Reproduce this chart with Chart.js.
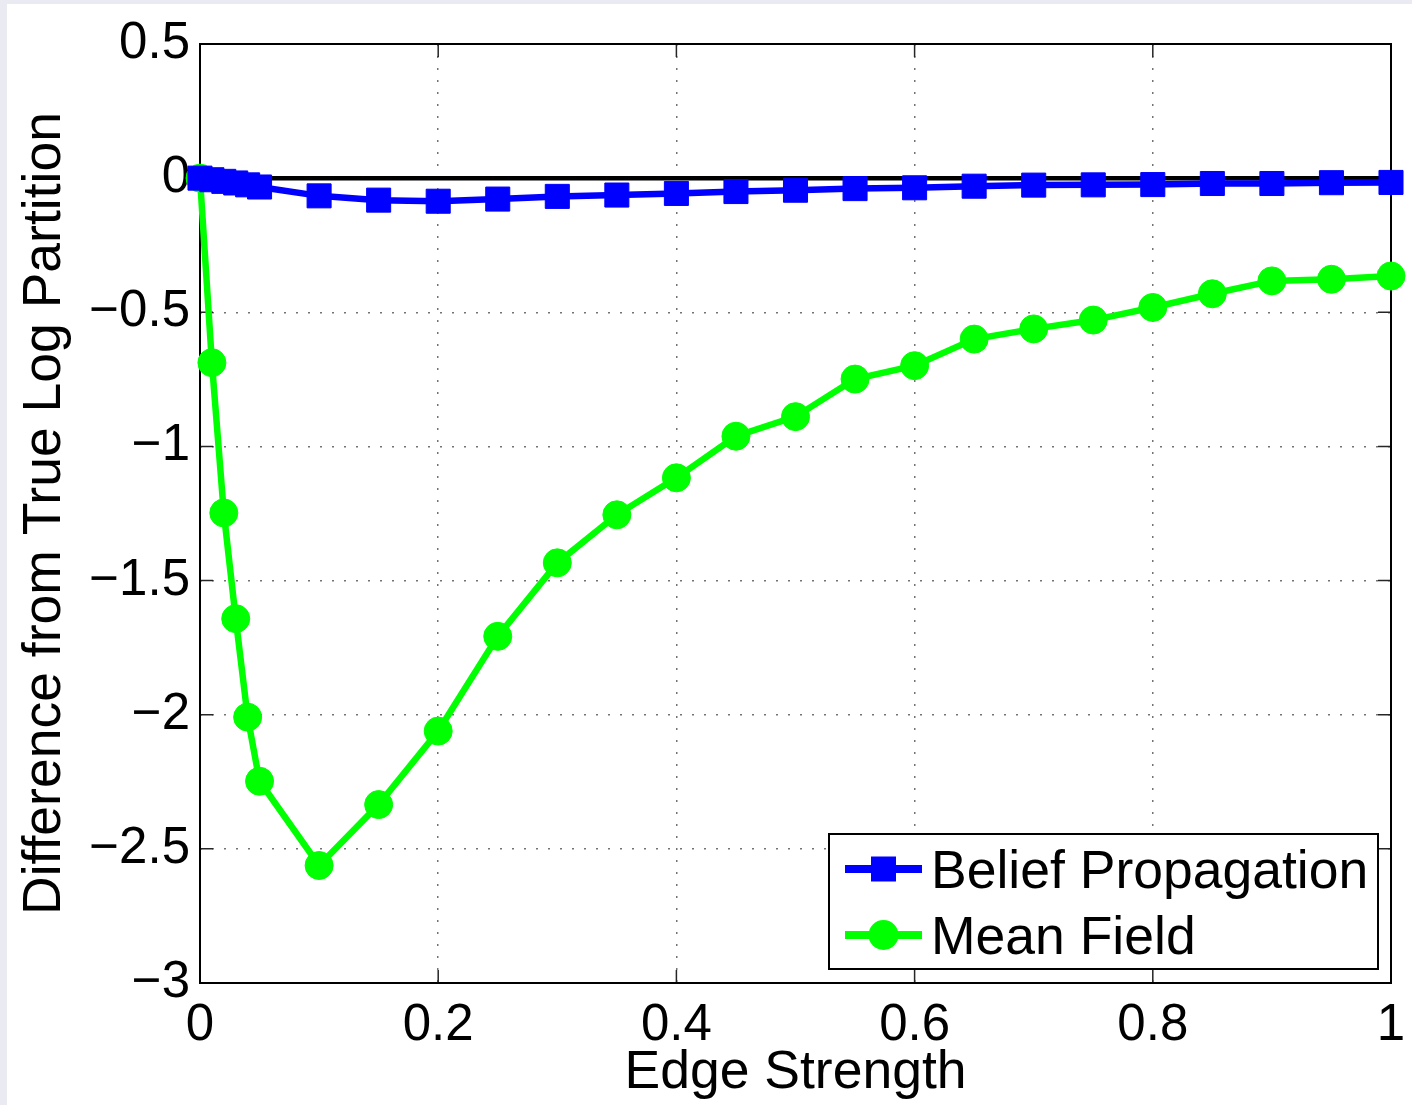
<!DOCTYPE html>
<html>
<head>
<meta charset="utf-8">
<script src="https://cdn.jsdelivr.net/npm/chart.js@4.4.1/dist/chart.umd.min.js"></script>
<style>
  body { margin: 0; background: #eaeaf3; }
  #wrap { position: absolute; left: 7px; top: 4px; width: 1405px; height: 1101px; background: #fff; }
</style>
</head>
<body>
<div id="wrap"><canvas id="myChart" width="1405" height="1101"></canvas></div>
<script>
var edgeStrength = [0, 0.01, 0.02, 0.03, 0.04, 0.05, 0.1, 0.15, 0.2, 0.25, 0.3, 0.35, 0.4,
                    0.45, 0.5, 0.55, 0.6, 0.65, 0.7, 0.75, 0.8, 0.85, 0.9, 0.95, 1];
var beliefProp = [0, -0.006, -0.012, -0.018, -0.025, -0.033, -0.066, -0.082, -0.086, -0.078,
                  -0.068, -0.063, -0.057, -0.050, -0.045, -0.039, -0.036, -0.030, -0.026,
                  -0.025, -0.024, -0.020, -0.020, -0.017, -0.016];
var meanField = [0, -0.688, -1.248, -1.642, -2.009, -2.248, -2.562, -2.335, -2.061, -1.708,
                 -1.434, -1.255, -1.117, -0.962, -0.889, -0.749, -0.699, -0.600, -0.562,
                 -0.529, -0.482, -0.431, -0.383, -0.377, -0.365];
var zeroX = [0, 1];
var zeroY = [0, 0];
var xTicks = [0, 0.2, 0.4, 0.6, 0.8, 1];
var yTicks = [0.5, 0, -0.5, -1, -1.5, -2, -2.5, -3];

var FONT = '"Liberation Sans", Arial, Helvetica, sans-serif';

function pairs(xs, ys) {
  return xs.map(function (x, i) { return {x: x, y: ys[i]}; });
}

function fmt(v) {
  var r = Math.round(v * 10) / 10;
  return r < 0 ? '\u2212' + (-r) : '' + r;
}

// box and inward ticks, matlab style
var framePlugin = {
  id: 'frame',
  beforeDatasetsDraw: function (chart) {
    var ctx = chart.ctx, a = chart.chartArea;
    var xs = chart.scales.x, ys = chart.scales.y;
    var tl = 13;
    ctx.save();
    ctx.strokeStyle = '#262626';
    ctx.lineWidth = 1.5;
    ctx.beginPath();
    xTicks.forEach(function (t) {
      var px = xs.getPixelForValue(t);
      ctx.moveTo(px, a.bottom); ctx.lineTo(px, a.bottom - tl);
      ctx.moveTo(px, a.top); ctx.lineTo(px, a.top + tl);
    });
    yTicks.forEach(function (t) {
      var py = ys.getPixelForValue(t);
      ctx.moveTo(a.left, py); ctx.lineTo(a.left + tl, py);
      ctx.moveTo(a.right, py); ctx.lineTo(a.right - tl, py);
    });
    ctx.stroke();
    ctx.strokeStyle = '#000';
    ctx.lineWidth = 2;
    ctx.strokeRect(a.left, a.top, a.right - a.left, a.bottom - a.top);
    ctx.restore();
  }
};

var legendPlugin = {
  id: 'boxLegend',
  afterDraw: function (chart) {
    var ctx = chart.ctx, a = chart.chartArea;
    var w = 549, h = 135;
    var bx = a.right - 13 - w, by = a.bottom - 14 - h;
    ctx.save();
    ctx.fillStyle = '#fff';
    ctx.fillRect(bx, by, w, h);
    ctx.strokeStyle = '#000';
    ctx.lineWidth = 2;
    ctx.strokeRect(bx, by, w, h);
    var sets = chart.data.datasets.filter(function (d) { return d.label; });
    sets.forEach(function (d, i) {
      var cy = by + 35 + i * 66;
      ctx.strokeStyle = d.borderColor;
      ctx.fillStyle = d.backgroundColor;
      ctx.lineWidth = 8;
      ctx.beginPath();
      ctx.moveTo(bx + 16, cy); ctx.lineTo(bx + 93, cy);
      ctx.stroke();
      ctx.beginPath();
      if (d.pointStyle === 'rect') {
        ctx.rect(bx + 54.5 - 12.5, cy - 12.5, 25, 25);
      } else {
        ctx.arc(bx + 54.5, cy, 15, 0, Math.PI * 2);
      }
      ctx.fill();
      ctx.fillStyle = '#000';
      ctx.font = '53.5px ' + FONT;
      ctx.textBaseline = 'alphabetic';
      ctx.fillText(d.label, bx + 102, cy + 19);
    });
    ctx.restore();
  }
};

var canvas = document.getElementById('myChart');
var ctx = canvas.getContext('2d');

var myChart = new Chart(ctx, {
  type: 'line',
  data: {
    datasets: [{
      label: 'Belief Propagation',
      data: pairs(edgeStrength, beliefProp),
      borderColor: '#0000ff',
      backgroundColor: '#0000ff',
      borderWidth: 6.5,
      pointStyle: 'rect',
      pointRadius: 17,
      pointBorderWidth: 1,
      pointHoverRadius: 17,
      clip: false
    }, {
      label: 'Mean Field',
      data: pairs(edgeStrength, meanField),
      borderColor: '#00ff00',
      backgroundColor: '#00ff00',
      borderWidth: 6.5,
      pointStyle: 'circle',
      pointRadius: 14,
      pointBorderWidth: 1,
      pointHoverRadius: 14,
      clip: false
    }, {
      label: '',
      data: pairs(zeroX, zeroY),
      borderColor: '#000',
      borderWidth: 4.5,
      pointRadius: 0,
      clip: false
    }]
  },
  options: {
    responsive: false,
    animation: false,
    layout: { padding: { top: 40, right: 21, left: 0, bottom: 0 } },
    plugins: {
      legend: { display: false },
      tooltip: { enabled: false }
    },
    scales: {
      x: {
        type: 'linear',
        min: 0, max: 1,
        afterFit: function (s) {
          s.height = 122;
          s.paddingLeft = 0;
          s.paddingRight = 0;
        },
        afterBuildTicks: function (s) { s.ticks = xTicks.map(function (v) { return {value: v}; }); },
        ticks: {
          callback: fmt, color: '#000', padding: 12, maxRotation: 0,
          font: { family: FONT, size: 51 }
        },
        grid: { color: 'rgba(0,0,0,0.55)', lineWidth: 1.5, drawTicks: false },
        border: { display: false, dash: [2, 10] },
        title: {
          display: true, text: 'Edge Strength', color: '#000',
          font: { family: FONT, size: 53.5 }, padding: { top: 0, bottom: 0 }
        }
      },
      y: {
        type: 'linear',
        min: -3, max: 0.5,
        afterFit: function (s) {
          s.width = 193;
          s.paddingTop = 0;
          s.paddingBottom = 0;
        },
        afterBuildTicks: function (s) { s.ticks = yTicks.map(function (v) { return {value: v}; }); },
        ticks: {
          callback: fmt, color: '#000', padding: 10,
          font: { family: FONT, size: 51 }
        },
        grid: { color: 'rgba(0,0,0,0.55)', lineWidth: 1.5, drawTicks: false },
        border: { display: false, dash: [2, 10] },
        title: {
          display: true, text: 'Difference from True Log Partition', color: '#000',
          font: { family: FONT, size: 53.5 }, padding: { top: 6, bottom: 0 }
        }
      }
    }
  },
  plugins: [framePlugin, legendPlugin]
});
</script>
</body>
</html>
